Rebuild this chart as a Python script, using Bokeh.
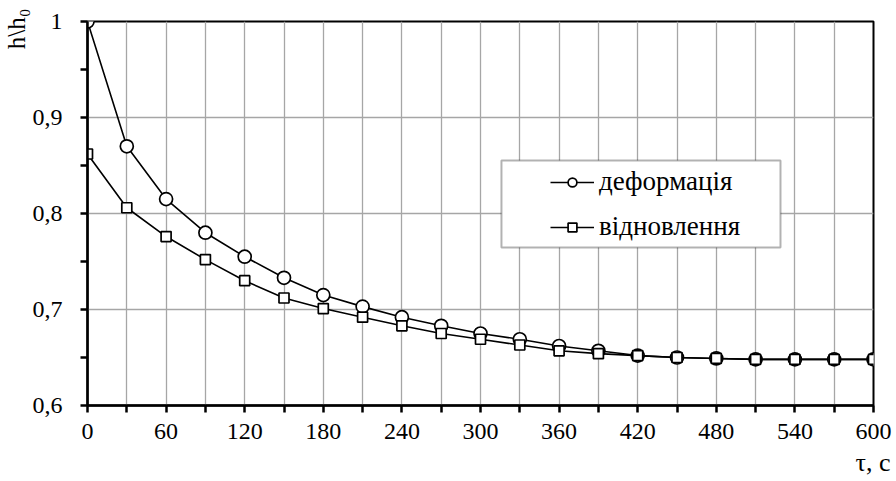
from bokeh.plotting import figure
from bokeh.models import (Range1d, FixedTicker, CustomJSTickFormatter, Legend, LegendItem,
                          BoxAnnotation, Title)
from bokeh.embed import file_html
from bokeh.resources import INLINE

# ---- data ----
tau = [0, 30, 60, 90, 120, 150, 180, 210, 240, 270, 300, 330, 360, 390, 420,
       450, 480, 510, 540, 570, 600]
deform = [1.000, 0.870, 0.815, 0.780, 0.755, 0.733, 0.715, 0.703, 0.692, 0.683,
          0.675, 0.669, 0.662, 0.657, 0.652, 0.650, 0.649, 0.648, 0.648, 0.648, 0.648]
recover = [0.862, 0.806, 0.776, 0.752, 0.730, 0.712, 0.701, 0.692, 0.683, 0.675,
           0.669, 0.663, 0.657, 0.654, 0.652, 0.650, 0.649, 0.648, 0.648, 0.648, 0.648]
x_ticks = [0, 60, 120, 180, 240, 300, 360, 420, 480, 540, 600]
x_minor = [30, 90, 150, 210, 270, 330, 390, 450, 510, 570]
y_ticks = [0.6, 0.7, 0.8, 0.9, 1.0]
y_minor = [0.65, 0.75, 0.85, 0.95]
names = ["деформація", "відновлення"]
y_title = "h\\h\u2080"
x_title = "τ, с"

FONT = "'Liberation Serif', 'Times New Roman', serif"

p = figure(width=896, height=481, output_backend="svg", toolbar_location=None,
           x_range=Range1d(0, 600), y_range=Range1d(0.6, 1.0),
           min_border_left=87, min_border_right=23, min_border_top=21, min_border_bottom=76)
p.background_fill_color = "white"
p.border_fill_color = "white"
p.outline_line_color = "black"
p.outline_line_width = 2

# grids
p.xgrid.ticker = FixedTicker(ticks=sorted(x_ticks + x_minor))
p.ygrid.ticker = FixedTicker(ticks=y_ticks)
for g in (p.xgrid, p.ygrid):
    g.grid_line_color = "#a6a6a6"
    g.grid_line_width = 1.3

fmt = CustomJSTickFormatter(code="return (Math.round(tick*10)/10).toString().replace('.', ',');")
p.xaxis.ticker = FixedTicker(ticks=x_ticks, minor_ticks=x_minor)
p.yaxis.ticker = FixedTicker(ticks=y_ticks, minor_ticks=y_minor)
p.yaxis.formatter = fmt
for ax in (p.xaxis, p.yaxis):
    ax.axis_line_width = 2.5
    ax.axis_line_color = "black"
    ax.major_tick_line_width = 2.5
    ax.minor_tick_line_width = 2.5
    ax.major_tick_out = 7
    ax.major_tick_in = 0
    ax.minor_tick_out = 7
    ax.minor_tick_in = 0
    ax.major_label_text_font = FONT
    ax.major_label_text_font_size = "24px"
    ax.major_label_text_font_style = "normal"
    ax.major_label_text_color = "black"
p.yaxis.major_label_standoff = 18
p.xaxis.major_label_standoff = 11

r1 = p.line(tau, deform, line_color="black", line_width=1.6)
m1 = p.scatter(tau, deform, marker="circle", size=13, fill_color="white",
               line_color="black", line_width=1.7)
r2 = p.line(tau, recover, line_color="black", line_width=1.6)
m2 = p.scatter(tau, recover, marker="square", size=10, fill_color="white",
               line_color="black", line_width=1.7)

# legend frame
p.add_layout(BoxAnnotation(left=316, right=529, top=0.8552, bottom=0.7646,
                           fill_color="white", fill_alpha=1.0,
                           line_color="black", line_width=2, level="overlay"))
lg = Legend(items=[LegendItem(label=names[0], renderers=[r1, m1]),
                   LegendItem(label=names[1], renderers=[r2, m2])],
            location=(463, 163), padding=0, margin=0, spacing=14,
            label_height=30, glyph_height=22, glyph_width=44, label_standoff=5,
            background_fill_alpha=0, border_line_color=None,
            label_text_font=FONT, label_text_font_size="27px", label_text_color="black")
p.add_layout(lg)

p.add_layout(Title(text=y_title, align="right", text_font=FONT, text_font_size="25px",
                   text_font_style="normal", text_color="black", standoff=0, offset=-13), "left")
p.add_layout(Title(text=x_title, align="right", text_font=FONT, text_font_size="26px",
                   text_font_style="normal", text_color="black", standoff=8, offset=-17), "below")

open("out.html", "w").write(file_html(p, INLINE))
